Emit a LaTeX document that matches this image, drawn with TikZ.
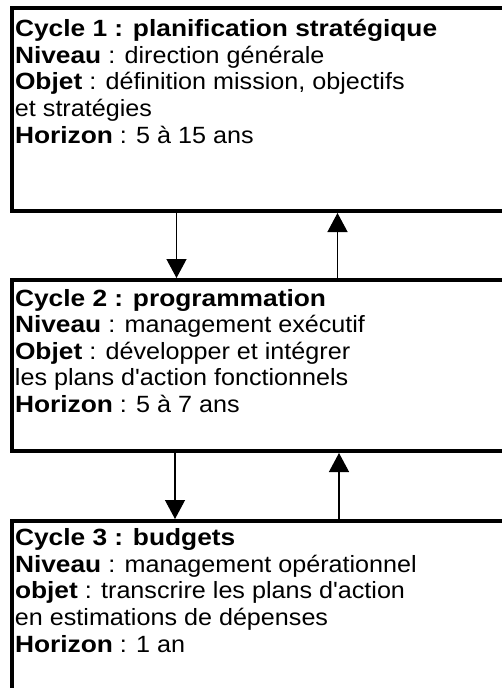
\documentclass[tikz,border=0pt]{standalone}
\usepackage{fontspec}
\setmainfont{Liberation Sans}[FakeStretch=1.07,BoldFeatures={FakeStretch=1.12},Ligatures=TeXOff]
\usetikzlibrary{arrows.meta}
\usetikzlibrary{positioning}

\begin{document}
\begin{tikzpicture}[x=1pt,y=1pt,node distance=65pt,
    cycle/.style={draw,line width=4pt,minimum width=520pt,anchor=north west,inner sep=0pt},
    cycletext/.style={anchor=north west,inner sep=0pt,outer sep=0pt,align=left,font=\fontsize{23.5}{26.6}\selectfont},
    flow/.style={line width=1.3pt,-{Triangle[width=20pt,length=19pt]}}]
          \useasboundingbox (0,0) rectangle (502,-688);
          \clip (0,0) rectangle (502,-688);
          \node[cycle,minimum height=203pt] (cycle1) at (10,-6) {};
          \node[cycle,minimum height=171pt,below=of cycle1] (cycle2) {};
          \node[cycle,minimum height=200pt,below=66pt of cycle2] (cycle3) {};
          \node[cycletext,below right=12pt and 5pt of cycle1.north west] (text1) {\strut\textbf{Cycle 1 : planification stratégique}\\\textbf{Niveau} : direction générale\\\textbf{Objet} : définition mission, objectifs\\et stratégies\\\textbf{Horizon} : 5 à 15 ans};
          \node[cycletext,below right=9.5pt and 5pt of cycle2.north west] (text2) {\strut\textbf{Cycle 2 : programmation}\\\textbf{Niveau} : management exécutif\\\textbf{Objet} : développer et intégrer\\les plans d'action fonctionnels\\\textbf{Horizon} : 5 à 7 ans};
          \node[cycletext,below right=8pt and 5pt of cycle3.north west] (text3) {\strut\textbf{Cycle 3 : budgets}\\\textbf{Niveau} : management opérationnel\\\textbf{objet} : transcrire les plans d'action\\en estimations de dépenses\\\textbf{Horizon} : 1 an};
          \draw[flow] ([xshift=166.5pt]cycle1.south west) -- ([xshift=166.5pt]cycle2.north west);
          \draw[flow] ([xshift=327.5pt]cycle2.north west) -- ([xshift=327.5pt]cycle1.south west);
          \draw[flow] ([xshift=165pt]cycle2.south west) -- ([xshift=165pt]cycle3.north west);
          \draw[flow] ([xshift=329pt]cycle3.north west) -- ([xshift=329pt]cycle2.south west);
        \end{tikzpicture}
\end{document}
